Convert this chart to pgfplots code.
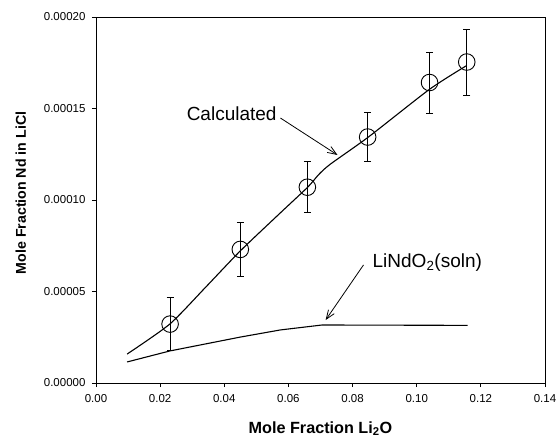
\documentclass[border=0pt]{standalone}
\usepackage{fontspec}
\setmainfont{Liberation Sans}
\usepackage{pgfplots}
\pgfplotsset{compat=1.18}
\usetikzlibrary{arrows.meta}

\begin{document}
\begin{tikzpicture}
  \path[use as bounding box] (-96pt,-54pt) rectangle (460pt,383pt);
  \begin{axis}[
      at={(0,0)}, anchor=south west,
      scale only axis,
      width=449pt, height=366pt,
      xmin=0, xmax=0.14, ymin=0, ymax=0.0002,
      xtick={0,0.02,...,0.14},
      ytick={0,0.00005,0.0001,0.00015,0.0002},
      scaled x ticks=false, scaled y ticks=false,
      xticklabel style={yshift=-4pt, /pgf/number format/.cd, fixed, fixed zerofill, precision=2},
      yticklabel style={xshift=-3pt, /pgf/number format/.cd, fixed, fixed zerofill, precision=5},
      /pgf/number format/assume math mode=true,
      tick label style={font=\fontsize{11.5}{13}\selectfont},
      xtick pos=left, ytick pos=left,
      tick align=outside,
      major tick length=4pt,
      axis line style={line width=0.9pt},
      every tick/.style={black, line width=0.8pt},
      xlabel={\textbf{Mole Fraction Li\textsubscript{2}O}},
      ylabel={\textbf{Mole Fraction Nd in LiCl}},
      xlabel style={font=\fontsize{16.2}{18}\selectfont, yshift=-12pt},
      ylabel style={font=\fontsize{14.2}{16}\selectfont, yshift=11pt, xshift=7pt},
      clip=false,
    ]
    % calculated curve
    \addplot[black, line width=1.1pt, smooth, tension=0.4] coordinates {
      (0.0097,0.0000158) (0.023,0.0000322) (0.034,0.0000520) (0.045,0.0000722)
      (0.0575,0.0000930) (0.066,0.0001070) (0.0695,0.0001140) (0.073,0.0001195)
      (0.085,0.0001345) (0.104,0.0001605) (0.1156,0.0001735)
    };
    % LiNdO2(soln) curve
    \addplot[black, line width=1.1pt] coordinates {
      (0.0097,0.0000115) (0.023,0.0000175) (0.045,0.0000251) (0.0575,0.0000290)
      (0.0705,0.0000317) (0.1159,0.0000315)
    };
    % measured points
    \addplot[black, only marks, mark=o, mark size=8.3pt, line width=0.9pt,
      error bars/.cd, y dir=both, y explicit,
      error bar style={line width=0.8pt},
      error mark options={rotate=90, mark size=3.5pt, line width=0.8pt}]
      coordinates {
      (0.0231,0.0000322) +- (0,0.0000145)
      (0.0450,0.0000730) +- (0,0.0000145)
      (0.0659,0.0001070) +- (0,0.0000140)
      (0.0847,0.0001344) +- (0,0.0000135)
      (0.1040,0.0001642) +- (0,0.0000167)
      (0.1156,0.0001754) +- (0,0.0000180)
    };
    \node[font=\fontsize{19}{21}\selectfont] at (axis cs:0.0423,0.0001473) {Calculated};
    \draw[-{Straight Barb[length=9pt,width=7pt]}, line width=0.8pt]
      (axis cs:0.0575,0.0001448) -- (axis cs:0.0753,0.0001246);
    \node[font=\fontsize{19}{21}\selectfont] at (axis cs:0.1033,0.0000660) {LiNdO\textsubscript{2}(soln)};
    \draw[-{Straight Barb[length=9pt,width=7pt]}, line width=0.8pt]
      (axis cs:0.0834,0.0000645) -- (axis cs:0.0716,0.0000344);
  \end{axis}
\end{tikzpicture}
\end{document}
